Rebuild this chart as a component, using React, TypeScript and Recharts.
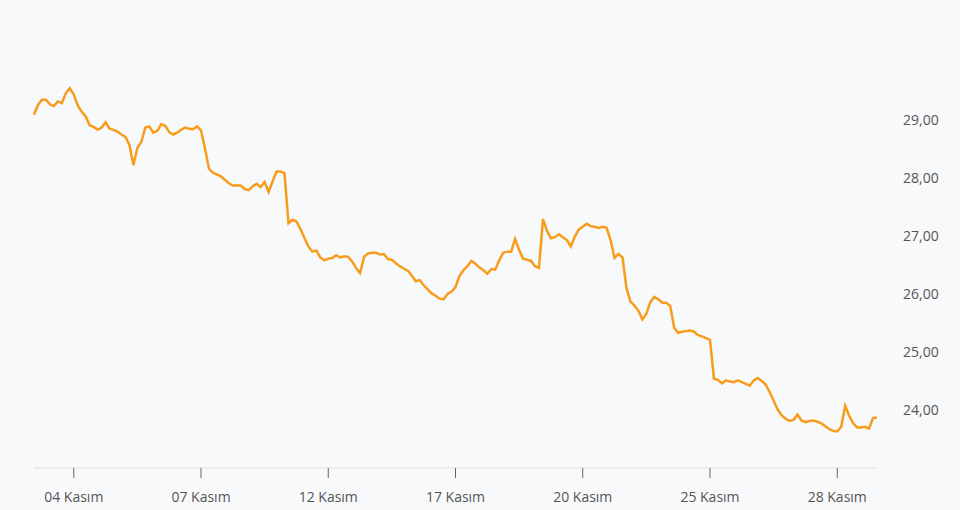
import React from 'react';
import { LineChart, Line, XAxis, YAxis } from 'recharts';

// price values, one per sample
const values = [
  29.09, 29.26, 29.35, 29.35, 29.27, 29.24, 29.32, 29.29, 29.46, 29.55,
  29.44, 29.25, 29.14, 29.06, 28.91, 28.88, 28.83, 28.87, 28.96, 28.85,
  28.83, 28.8, 28.75, 28.71, 28.57, 28.22, 28.52, 28.62, 28.87, 28.89,
  28.78, 28.81, 28.93, 28.9, 28.79, 28.75, 28.78, 28.83, 28.87, 28.85,
  28.84, 28.89, 28.82, 28.51, 28.16, 28.09, 28.06, 28.03, 27.97, 27.91,
  27.87, 27.87, 27.87, 27.81, 27.79, 27.86, 27.9, 27.84, 27.93, 27.76,
  27.94, 28.11, 28.11, 28.08, 27.22, 27.28, 27.25, 27.12, 26.97, 26.82,
  26.73, 26.75, 26.63, 26.58, 26.61, 26.62, 26.67, 26.63, 26.65, 26.64,
  26.56, 26.45, 26.36, 26.64, 26.7, 26.71, 26.71, 26.68, 26.69, 26.6,
  26.59, 26.53, 26.48, 26.44, 26.4, 26.32, 26.22, 26.24, 26.15, 26.08,
  26.01, 25.97, 25.92, 25.91, 26.0, 26.04, 26.12, 26.31, 26.41, 26.48,
  26.57, 26.52, 26.46, 26.41, 26.35, 26.43, 26.42, 26.58, 26.71, 26.73,
  26.73, 26.95, 26.76, 26.61, 26.59, 26.57, 26.48, 26.45, 27.29, 27.09,
  26.96, 26.98, 27.03, 26.98, 26.93, 26.82, 26.99, 27.11, 27.16, 27.21,
  27.17, 27.16, 27.14, 27.16, 27.14, 26.93, 26.62, 26.69, 26.63, 26.1,
  25.87, 25.8, 25.71, 25.56, 25.66, 25.86, 25.95, 25.91, 25.85, 25.85,
  25.79, 25.42, 25.33, 25.35, 25.36, 25.37, 25.35, 25.29, 25.27, 25.24,
  25.21, 24.54, 24.52, 24.46, 24.51, 24.49, 24.48, 24.51, 24.48, 24.45,
  24.42, 24.51, 24.55, 24.5, 24.44, 24.31, 24.16, 24.01, 23.91, 23.85,
  23.81, 23.83, 23.92, 23.82, 23.79, 23.81, 23.82, 23.8, 23.77, 23.72,
  23.67, 23.64, 23.63, 23.71, 24.07, 23.9, 23.77, 23.7, 23.7, 23.71,
  23.68, 23.86, 23.87,
];

// which samples carry a date label
const tickIndex = [10, 42, 74, 106, 138, 170, 202];
const tickLabels = ['04 Kasım', '07 Kasım', '12 Kasım', '17 Kasım', '20 Kasım', '25 Kasım', '28 Kasım'];

const yTicks = [24, 25, 26, 27, 28, 29];

const data = values.map((v, i) => ({ i, v }));

const font = '"Segoe UI", "Open Sans", "Noto Sans", sans-serif';

export default function App() {
  return (
    <div style={{ position: 'absolute', left: 0, top: 0, width: 960, height: 510, background: '#f8f9fb' }}>
      <LineChart width={960} height={510} data={data} margin={{ top: 33, right: 0, left: 34, bottom: 0 }}>
        <XAxis
          dataKey="i"
          type="category"
          scale="point"
          ticks={tickIndex}
          interval={0}
          tickFormatter={(i: number) => tickLabels[tickIndex.indexOf(i)]}
          height={42}
          tickSize={10}
          tickMargin={14}
          axisLine={{ stroke: '#dcdde0' }}
          tickLine={{ stroke: '#666' }}
          tick={{ fill: '#555', fontSize: 14, fontFamily: font }}
        />
        <YAxis
          orientation="right"
          domain={[23, 30.5]}
          ticks={yTicks}
          width={83}
          axisLine={false}
          tickLine={false}
          tickSize={6}
          tickMargin={20}
          tickFormatter={(v: number) => v.toFixed(2).replace('.', ',')}
          tick={{ fill: '#555', fontSize: 14, fontFamily: font, textAnchor: 'start' }}
        />
        <Line
          type="linear"
          dataKey="v"
          stroke="#f89c1c"
          strokeWidth={2.5}
          dot={false}
          isAnimationActive={false}
        />
      </LineChart>
    </div>
  );
}
